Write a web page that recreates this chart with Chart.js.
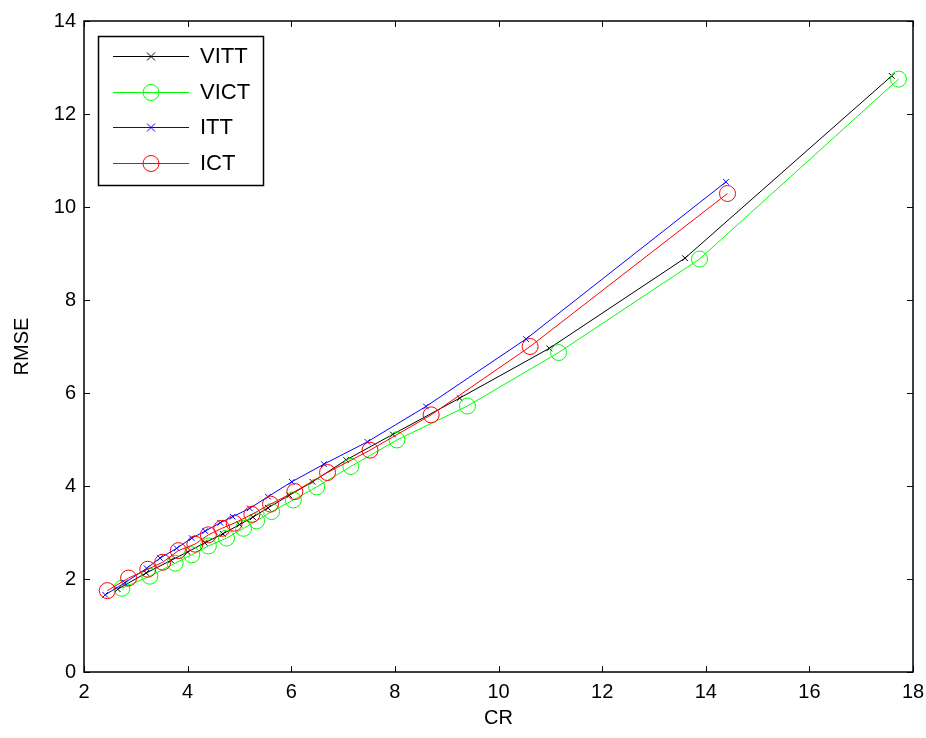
<!DOCTYPE html>
<html>
<head>
<meta charset="utf-8">
<script src="https://cdn.jsdelivr.net/npm/chart.js@4.4.0/dist/chart.umd.min.js"></script>
<style>
  body { margin: 0; background: #fff; }
  #wrap { width: 926px; height: 738px; }
</style>
</head>
<body>
<div id="wrap"><canvas id="myChart" width="926" height="738"></canvas></div>
<script>
const seriesNames = ["VITT", "VICT", "ITT", "ICT"];
const seriesColors = ["#000000", "#00ff00", "#0000ff", "#ff0000"];

const vittCR = [2.65, 3.2, 3.68, 4.0, 4.33, 4.68, 5.0, 5.26, 5.55, 5.96, 6.41, 7.06, 7.96, 9.25, 10.98, 13.6, 17.59];
const vittRMSE = [1.78, 2.13, 2.4, 2.58, 2.78, 2.97, 3.17, 3.33, 3.53, 3.8, 4.09, 4.56, 5.11, 5.89, 6.96, 8.9, 12.82];

const victCR = [2.73, 3.27, 3.76, 4.08, 4.4, 4.75, 5.08, 5.33, 5.62, 6.04, 6.49, 7.15, 8.04, 9.4, 11.16, 13.88, 17.72];
const victRMSE = [1.8, 2.06, 2.34, 2.52, 2.71, 2.88, 3.09, 3.25, 3.45, 3.7, 3.98, 4.42, 4.99, 5.72, 6.87, 8.88, 12.75];

const ittCR = [2.41, 2.79, 3.21, 3.47, 3.79, 4.08, 4.34, 4.63, 4.87, 5.2, 5.55, 6.01, 6.63, 7.47, 8.6, 10.53, 14.39];
const ittRMSE = [1.66, 1.92, 2.23, 2.45, 2.66, 2.88, 3.03, 3.21, 3.34, 3.52, 3.77, 4.09, 4.47, 4.95, 5.71, 7.16, 10.54];

const ictCR = [2.45, 2.86, 3.23, 3.52, 3.82, 4.14, 4.4, 4.66, 4.9, 5.24, 5.6, 6.07, 6.7, 7.52, 8.7, 10.61, 14.42];
const ictRMSE = [1.75, 2.02, 2.21, 2.36, 2.61, 2.75, 2.95, 3.09, 3.2, 3.39, 3.61, 3.88, 4.29, 4.77, 5.53, 7.0, 10.29];

const xTicks = [2, 4, 6, 8, 10, 12, 14, 16, 18];
const yTicks = [0, 2, 4, 6, 8, 10, 12, 14];

const pointStyles = ["crossRot", "circle", "crossRot", "circle"];
const pointSizes = [4, 8, 4, 8];

function toPoints(xs, ys) {
  return xs.map((x, i) => ({ x: x, y: ys[i] }));
}

const allX = [vittCR, victCR, ittCR, ictCR];
const allY = [vittRMSE, victRMSE, ittRMSE, ictRMSE];

const datasets = seriesNames.map((name, i) => ({
  label: name,
  data: toPoints(allX[i], allY[i]),
  borderColor: seriesColors[i],
  borderWidth: 1,
  showLine: true,
  fill: false,
  pointStyle: pointStyles[i],
  pointRadius: pointSizes[i],
  pointBorderWidth: 1,
  pointBorderColor: seriesColors[i],
  pointBackgroundColor: "rgba(0,0,0,0)",
  order: 3 - i,
}));

// box, inward ticks on all 4 sides, matlab style legend
const matlabFrame = {
  id: "matlabFrame",
  afterDraw(chart) {
    const c = chart.ctx;
    const a = chart.chartArea;
    const xs = chart.scales.x;
    const ys = chart.scales.y;
    c.save();
    c.strokeStyle = "#000";
    c.lineWidth = 1.5;
    c.strokeRect(a.left, a.top, a.right - a.left, a.bottom - a.top);
    c.lineWidth = 1;
    xTicks.forEach((t) => {
      let px = Math.round(xs.getPixelForValue(t)) + 0.5;
      c.beginPath();
      c.moveTo(px, a.bottom);
      c.lineTo(px, a.bottom - 6);
      c.moveTo(px, a.top);
      c.lineTo(px, a.top + 6);
      c.stroke();
    });
    yTicks.forEach((t) => {
      let py = Math.round(ys.getPixelForValue(t)) + 0.5;
      c.beginPath();
      c.moveTo(a.left, py);
      c.lineTo(a.left + 6, py);
      c.moveTo(a.right, py);
      c.lineTo(a.right - 6, py);
      c.stroke();
    });

    // legend
    let lx = 98, ly = 36, lw = 165, lh = 149;
    c.fillStyle = "#fff";
    c.fillRect(lx, ly, lw, lh);
    c.strokeStyle = "#000";
    c.lineWidth = 1.5;
    c.strokeRect(lx + 0.5, ly + 0.5, lw, lh);
    const rows = [56, 92, 127, 163];
    c.font = "22px 'Liberation Sans', Arial, sans-serif";
    c.textBaseline = "middle";
    seriesNames.forEach((name, i) => {
      let y = rows[i] + 0.5;
      c.strokeStyle = seriesColors[i];
      c.lineWidth = 1;
      c.beginPath();
      c.moveTo(113, y);
      c.lineTo(189, y);
      c.stroke();
      if (pointStyles[i] === "circle") {
        c.beginPath();
        c.arc(151, y, 8, 0, Math.PI * 2);
        c.stroke();
      } else {
        c.beginPath();
        c.moveTo(147, y - 4);
        c.lineTo(155, y + 4);
        c.moveTo(155, y - 4);
        c.lineTo(147, y + 4);
        c.stroke();
      }
      c.fillStyle = "#000";
      c.fillText(name, 200, rows[i] + 1);
    });
    c.restore();
  },
};

const ctx = document.getElementById("myChart");

new Chart(ctx, {
  type: "scatter",
  data: { datasets: datasets },
  plugins: [matlabFrame],
  options: {
    responsive: false,
    animation: false,
    layout: { padding: { top: 21, right: 13, left: 0, bottom: 0 } },
    plugins: {
      legend: { display: false },
      tooltip: { enabled: false },
    },
    scales: {
      x: {
        type: "linear",
        min: 2,
        max: 18,
        afterBuildTicks: (s) => { s.ticks = xTicks.map((v) => ({ value: v })); },
        afterFit: (s) => {
          s.height = 66;
          s.paddingLeft = 0;
          s.paddingRight = 0;
        },
        grid: { display: false, drawTicks: false },
        border: { display: false },
        ticks: {
          color: "#000",
          padding: 8,
          maxRotation: 0,
          font: { size: 20, family: "'Liberation Sans', Arial, sans-serif" },
        },
        title: {
          display: true,
          text: "CR",
          color: "#000",
          padding: { top: 0, bottom: 8 },
          font: { size: 20, family: "'Liberation Sans', Arial, sans-serif" },
        },
      },
      y: {
        type: "linear",
        min: 0,
        max: 14,
        afterBuildTicks: (s) => { s.ticks = yTicks.map((v) => ({ value: v })); },
        afterFit: (s) => { s.width = 84; },
        grid: { display: false, drawTicks: false },
        border: { display: false },
        ticks: {
          color: "#000",
          padding: 8,
          font: { size: 20, family: "'Liberation Sans', Arial, sans-serif" },
        },
        title: {
          display: true,
          text: "RMSE",
          color: "#000",
          padding: { top: 10, bottom: 4 },
          font: { size: 20, family: "'Liberation Sans', Arial, sans-serif" },
        },
      },
    },
  },
});
</script>
</body>
</html>
